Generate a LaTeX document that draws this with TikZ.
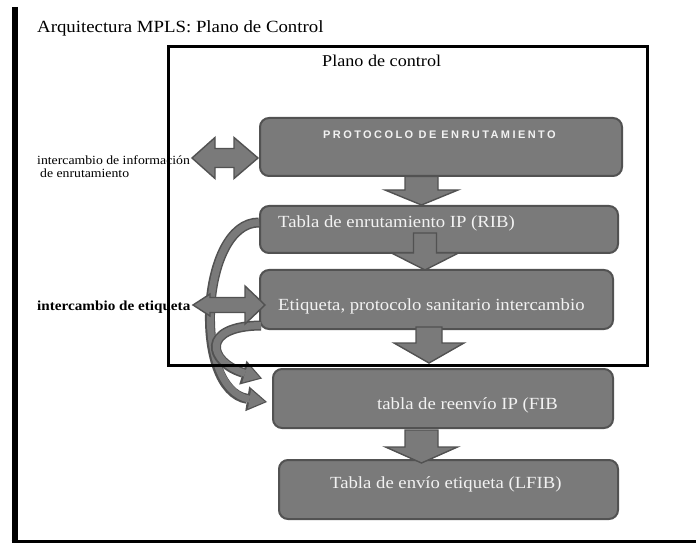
\documentclass[tikz,border=0pt]{standalone}
\usepackage{fontspec}
\setmainfont{Liberation Serif}[FakeStretch=1.1]
\newfontfamily\capsfont{Liberation Sans}[LetterSpace=22]
\usetikzlibrary{arrows.meta}
\definecolor{boxfill}{RGB}{122,122,122}
\definecolor{boxedge}{RGB}{82,82,82}
\definecolor{boxtext}{RGB}{242,242,242}
\tikzset{
  block/.style={draw=boxedge, fill=boxfill, line width=2pt, rounded corners=9pt, rectangle, inner sep=0pt},
  blockarrow/.style={draw=boxedge, fill=boxfill, line width=1.4pt, line join=miter},
  boxlabel/.style={text=boxtext, anchor=base west, inner sep=0pt, font=\fontsize{17}{20}\selectfont},
  capslabel/.style={text=boxtext, anchor=base west, inner sep=0pt, font=\capsfont\bfseries\fontsize{11}{13}\selectfont},
  plainlabel/.style={anchor=base west, inner sep=0pt},
  curveout/.style={draw=boxedge, line width=10pt, -{Triangle[width=25pt,length=20pt,line width=0pt]}},
  curvein/.style={draw=boxfill, line width=7pt, shorten >=2.2pt, -{Triangle[width=19pt,length=15.5pt,line width=0pt]}},
}
\newcommand\blockdown[6]{%
  \draw[blockarrow] (#1-#5,#2) -- (#1+#5,#2) -- (#1+#5,#3) -- (#1+#6,#3) -- (#1,#4) -- (#1-#6,#3) -- (#1-#5,#3) -- cycle;}
\begin{document}
\begin{tikzpicture}[x=1pt,y=-1pt]
\useasboundingbox (0,0) rectangle (696,545);
\fill[white] (0,0) rectangle (696,545);

% frame lines
\draw[line width=6pt] (14.5,7) -- (14.5,543) coordinate (fcorner);
\draw[line width=3pt] (11.5,541.5) -- (696,541.5) coordinate (fend);

% title
\node[plainlabel, font=\fontsize{17.1}{20}\selectfont] (title) at (37,33) {Arquitectura MPLS: Plano de Control};

% boxes
\node[block, minimum width=362pt, minimum height=58pt] (proto) at (441,147) {};
\node[block, minimum width=358pt, minimum height=47pt] (rib) at (439,229.5) {};
\node[block, minimum width=353pt, minimum height=59pt] (etiq) at (436.5,299.5) {};
\node[block, minimum width=340pt, minimum height=59pt] (fib) at (443,398.5) {};
\node[block, minimum width=339pt, minimum height=59pt] (lfib) at (448.5,489.5) {};

% down block arrows
\blockdown{421.5}{176.5}{190}{205}{16.5}{36.5}
\blockdown{425}{233}{253}{270}{11.5}{33.5}
\blockdown{429}{327}{343}{363}{13}{35}
\blockdown{421.5}{430}{447}{463}{16.5}{36}

% box labels
\node[capslabel] (protot) at (323,139) {PROTOCOLO DE\hspace{5pt}ENRUTAMIENTO};
\node[boxlabel] (ribt) at (278,228) {Tabla de enrutamiento IP (RIB)};
\node[boxlabel] (etiqt) at (278,311) {Etiqueta, protocolo sanitario intercambio};
\node[boxlabel] (fibt) at (377,409) {tabla de reenvío IP (FIB};
\node[boxlabel] (lfibt) at (330,488) {Tabla de envío etiqueta (LFIB)};

% left texts
\node[plainlabel, font=\fontsize{12.5}{14}\selectfont] (info1) at (37,165) {intercambio de información};
\node[plainlabel, font=\fontsize{12.5}{14}\selectfont] (info2) at (40,178) {de enrutamiento};
\node[plainlabel, font=\bfseries\fontsize{13.8}{15}\selectfont] (etqx) at (37,311) {intercambio de etiqueta};

% curved arrows
\coordinate (ribout) at ([yshift=7pt]rib.west);
\coordinate (etqout) at ([yshift=-26pt,xshift=2pt]etiq.west);
\coordinate (fibin1) at ([xshift=-5pt,yshift=-3.5pt]fib.west);
\coordinate (fibin2) at ([xshift=-10pt,yshift=20pt]fib.west);
\draw[curveout] (ribout) .. controls (200,222) and (192,390) .. (fibin1);
\draw[curvein] (ribout) .. controls (200,222) and (192,390) .. (fibin1);
\draw[curveout] (etqout) .. controls (200,326) and (208,362) .. (fibin2);
\draw[curvein] (etqout) .. controls (200,326) and (208,362) .. (fibin2);

% left double arrows
\draw[blockarrow] (192,158) -- (215,137.5) -- (215,148.5) -- (234,148.5) -- (234,137.5) -- (258,158)
  -- (234,178.5) -- (234,167.5) -- (215,167.5) -- (215,178.5) -- cycle;
\draw[blockarrow] (193,305) -- (210,294) -- (210,297.5) -- (245,297.5) -- (245,286) -- (265,305)
  -- (245,324) -- (245,312.5) -- (210,312.5) -- (210,316) -- cycle;

% control plane frame
\node[draw, line width=3pt, minimum width=479pt, minimum height=318pt, inner sep=0pt] (cplane) at (407.5,206) {};
\node[plainlabel, font=\fontsize{16.5}{19}\selectfont] (cplabel) at (322,67) {Plano de control};
\end{tikzpicture}
\end{document}
